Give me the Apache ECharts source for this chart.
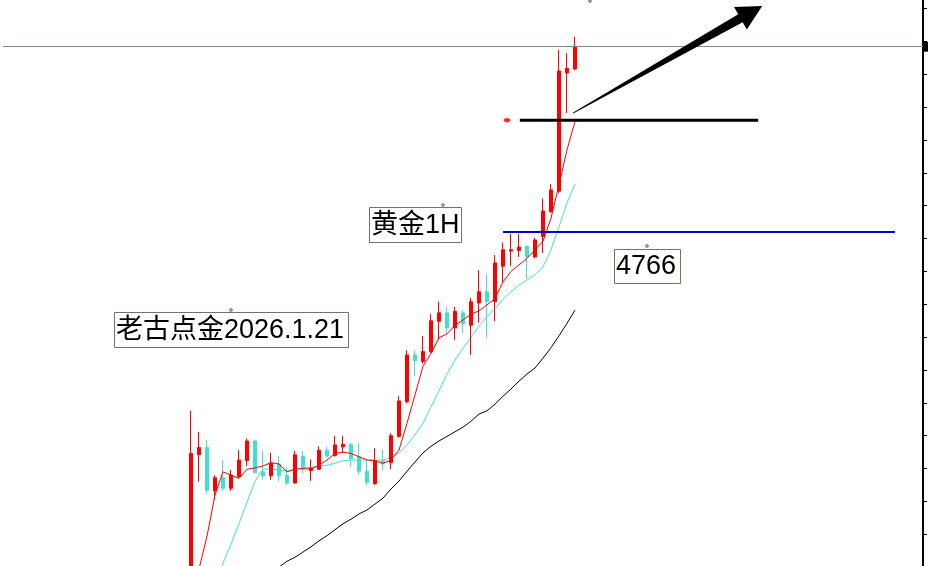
<!DOCTYPE html>
<html>
<head>
<meta charset="utf-8">
<script src="https://cdn.jsdelivr.net/npm/echarts@6/dist/echarts.min.js"></script>
<style>
html,body{margin:0;padding:0;background:#fff;}
#c{width:928px;height:566px;}
</style>
</head>
<body>
<div id="c"></div>
<script>
// ---- data (price units) ----
// each candle: [open, close, low, high]
const candles = [
  [4711.5,4732.3,4710.6,4738.8],[4732.1,4733.2,4728.0,4735.6],[4733.2,4726.7,4726.1,4734.4],
  [4726.6,4728.6,4725.2,4729.0],[4728.6,4727.0,4726.6,4731.3],[4727.0,4729.0,4726.6,4729.8],
  [4728.8,4731.3,4728.6,4732.8],[4731.2,4734.2,4730.4,4734.6],[4734.2,4729.4,4729.2,4734.4],
  [4729.5,4728.9,4728.3,4732.7],[4728.9,4730.8,4728.3,4732.4],[4730.7,4728.9,4728.1,4731.9],
  [4729.0,4727.8,4727.5,4730.2],[4727.8,4732.1,4727.7,4732.7],[4731.9,4729.9,4729.3,4732.7],
  [4729.7,4730.1,4728.1,4731.4],[4729.9,4732.8,4729.8,4733.4],[4732.8,4731.9,4731.7,4733.3],
  [4732.0,4733.6,4731.8,4735.0],[4733.3,4733.7,4732.4,4735.0],[4733.7,4731.5,4730.2,4733.9],
  [4731.8,4729.6,4729.0,4733.9],[4729.6,4727.9,4727.4,4731.2],[4727.7,4731.2,4727.5,4733.1],
  [4731.2,4730.7,4729.7,4732.9],[4730.9,4735.0,4729.9,4735.4],[4734.9,4740.3,4734.7,4741.0],
  [4740.2,4747.3,4739.9,4748.0],[4747.3,4746.4,4744.0,4748.0],[4746.3,4747.8,4746.0,4750.2],
  [4747.8,4752.5,4747.6,4753.5],[4752.4,4753.7,4749.6,4755.4],[4753.7,4751.4,4750.6,4754.6],
  [4751.4,4753.9,4749.6,4754.6],[4753.7,4752.0,4750.6,4754.1],[4751.8,4755.4,4747.3,4756.0],
  [4755.2,4756.9,4752.2,4760.2],[4756.9,4755.4,4749.9,4759.5],[4755.4,4761.3,4752.4,4762.5],
  [4760.8,4763.3,4758.4,4764.4],[4763.1,4763.3,4760.8,4765.7],[4763.2,4763.7,4762.2,4765.7],
  [4763.8,4762.2,4758.9,4764.0],[4762.2,4764.8,4762.0,4765.1],[4765.3,4769.2,4762.8,4771.1],
  [4769.1,4772.4,4768.9,4773.3],[4772.2,4790.5,4771.9,4793.7],[4790.2,4790.9,4784.1,4793.2],
  [4790.8,4794.2,4790.6,4795.7]
];
// moving averages aligned with candles (null = not visible)
const maFast = [null,4714.7,4719.7,4726.0,4729.5,4729.0,4728.5,4729.9,4730.1,4730.4,
  4730.9,4730.7,4729.5,4729.9,4730.0,4729.9,4730.5,4731.3,4732.3,4732.5,
  4732.3,4731.8,4731.3,4731.2,4730.8,4731.3,4732.8,4736.9,4741.2,4745.6,
  4747.5,4749.9,4750.5,4751.8,4752.6,4753.5,4754.0,4754.9,4755.9,4758.4,
  4760.0,4761.0,4762.0,4763.3,4764.6,4768.1,4773.2,4778.5,4782.8];
const maMid = [null,null,null,4712.6,4715.6,4718.5,4721.6,4724.9,4728.1,4729.9,
  4729.9,4729.8,4729.6,4729.9,4730.1,4730.2,4730.4,4730.5,4730.8,4731.2,
  4731.3,4731.3,4731.3,4731.3,4731.3,4731.6,4732.4,4733.6,4735.1,4736.9,
  4739.4,4741.8,4744.4,4746.5,4748.3,4750.0,4751.7,4753.1,4754.4,4755.7,
  4756.9,4757.9,4758.7,4759.5,4760.7,4763.3,4766.8,4770.4,4773.3];
const maSlow = [null,null,null,null,null,null,null,null,null,null,
  4714.1,4715.0,4715.9,4716.5,4717.3,4718.1,4719.0,4719.8,4720.7,4721.6,
  4722.3,4723.1,4723.7,4724.6,4725.5,4726.9,4728.1,4729.6,4731.0,4732.4,
  4733.4,4734.2,4734.9,4735.6,4736.3,4737.2,4738.3,4738.8,4739.8,4741.0,
  4742.1,4743.3,4744.4,4745.3,4746.8,4748.4,4750.2,4752.1,4754.1];
// annotation levels (price) and anchors (bar index relative to first candle, price)
const supportLevel = 4766;
const supportFromTo = [39, 88];
const resistLevel = 4783.0;
const resistFromTo = [41.1, 70.9];
const dotAnchor = [39.5, 4783.0];
const arrowFrom = [47.75, 4784.1];
const arrowTo = [71.4, 4800.4];
const titleText = '黄金1H';
const authorText = '老古点金2026.1.21';
const levelText = '4766';

// ---- layout helpers ----
const LEAD = 23, TOTAL = 115;
const categories = Array.from({length: TOTAL}, (_, i) => String(i));
function pad(arr) {
  const out = [];
  for (let i = 0; i < TOTAL; i++) {
    const j = i - LEAD;
    const v = (j >= 0 && j < arr.length) ? arr[j] : null;
    out.push(v == null ? '-' : v);
  }
  return out;
}
const lastClose = candles[candles.length - 1][1];

const chart = echarts.init(document.getElementById('c'), null, {renderer: 'canvas'});
const option = {
  animation: false,
  backgroundColor: '#ffffff',
  grid: {left: 3, right: 5, top: -24.3, bottom: -34, containLabel: false, outerBoundsMode: 'none'},
  xAxis: {type: 'category', data: categories, boundaryGap: true, show: false},
  yAxis: {
    type: 'value', position: 'right', min: 4710, max: 4805, interval: 5, scale: true,
    axisLine: {show: true, lineStyle: {color: '#000', width: 2}},
    axisTick: {show: true, inside: false, length: 4, lineStyle: {color: '#000', width: 1}},
    axisLabel: {show: false},
    splitLine: {show: false}
  },
  series: [
    {
      type: 'candlestick',
      data: pad(candles),
      barWidth: 4,
      itemStyle: {color: '#ff0000', color0: '#40e0d0', borderColor: '#ff0000', borderColor0: '#40e0d0', borderWidth: 1},
      markLine: {
        silent: true, symbol: ['none', 'none'],
        label: {show: false},
        lineStyle: {color: '#7b8896', width: 1, type: 'solid'},
        data: [{yAxis: lastClose}]
      },
      z: 3
    },
    {type: 'line', data: pad(maSlow), showSymbol: false, symbol: 'none', lineStyle: {color: '#000000', width: 1}, z: 2},
    {type: 'line', data: pad(maMid), showSymbol: false, symbol: 'none', lineStyle: {color: '#40e0d0', width: 1}, z: 2},
    {type: 'line', data: pad(maFast), showSymbol: false, symbol: 'none', lineStyle: {color: '#ff0000', width: 1}, z: 4}
  ]
};
chart.setOption(option);

// pixel conversion through the library's axes
const x0 = chart.convertToPixel({xAxisIndex: 0}, 0);
const x1 = chart.convertToPixel({xAxisIndex: 0}, 1);
function P(idx, price) {
  return [x0 + (x1 - x0) * (idx + LEAD), chart.convertToPixel({yAxisIndex: 0}, price)];
}

const g = [];
{
  const a = P(supportFromTo[0], supportLevel), b = P(supportFromTo[1], supportLevel);
  g.push({type: 'line', shape: {x1: a[0], y1: a[1], x2: b[0], y2: b[1]}, style: {stroke: '#0000c8', lineWidth: 2}, z: 10});
}
{
  const a = P(resistFromTo[0], resistLevel), b = P(resistFromTo[1], resistLevel);
  g.push({type: 'line', shape: {x1: a[0], y1: a[1], x2: b[0], y2: b[1]}, style: {stroke: '#000', lineWidth: 3}, z: 10});
}
{
  const p = P(dotAnchor[0], dotAnchor[1]);
  g.push({type: 'ellipse', shape: {cx: p[0], cy: p[1], rx: 3.5, ry: 2.2}, style: {fill: '#ff3030'}, z: 10});
}
{
  const S = P(arrowFrom[0], arrowFrom[1]), T = P(arrowTo[0], arrowTo[1]);
  const dx = T[0] - S[0], dy = T[1] - S[1], L = Math.hypot(dx, dy);
  const u = [dx / L, dy / L], n = [-u[1], u[0]];
  const headLen = 25, headW = 13, shaftW = 4.5, tailW = 0.4;
  const B = [T[0] - u[0] * headLen, T[1] - u[1] * headLen];
  const pts = [
    [S[0] + n[0] * tailW, S[1] + n[1] * tailW],
    [B[0] + n[0] * shaftW, B[1] + n[1] * shaftW],
    [B[0] + n[0] * headW, B[1] + n[1] * headW],
    [T[0], T[1]],
    [B[0] - n[0] * headW, B[1] - n[1] * headW],
    [B[0] - n[0] * shaftW, B[1] - n[1] * shaftW],
    [S[0] - n[0] * tailW, S[1] - n[1] * tailW]
  ];
  g.push({type: 'polygon', shape: {points: pts}, style: {fill: '#000'}, z: 11});
}
{
  const p = P(0, lastClose);
  g.push({type: 'rect', shape: {x: 924, y: p[1] - 5, width: 4, height: 10}, style: {fill: '#000'}, z: 12});
}
const FONT = '27px "Liberation Sans", "Noto Sans CJK SC", sans-serif';
function box(txt, x, y, w, h) {
  g.push({type: 'rect', shape: {x: x + 0.5, y: y + 0.5, width: w, height: h}, style: {fill: '#fff', stroke: '#7d6e5f', lineWidth: 1}, z: 20});
  g.push({type: 'text', x: x + 2, y: y + h / 2 + 1, style: {text: txt, font: FONT, fill: '#000', textAlign: 'left', textVerticalAlign: 'middle'}, z: 21});
}
box(authorText, 114, 312, 234, 35);
box(titleText, 369, 207, 92, 35);
box(levelText, 614, 249, 66, 34);
[[231, 310], [443, 205], [647, 246], [590, 1]].forEach(p => {
  g.push({type: 'circle', shape: {cx: p[0], cy: p[1], r: 1.3}, style: {fill: 'none', stroke: '#333', lineWidth: 0.8}, z: 22});
});
chart.setOption({graphic: {elements: g}});
</script>
</body>
</html>
